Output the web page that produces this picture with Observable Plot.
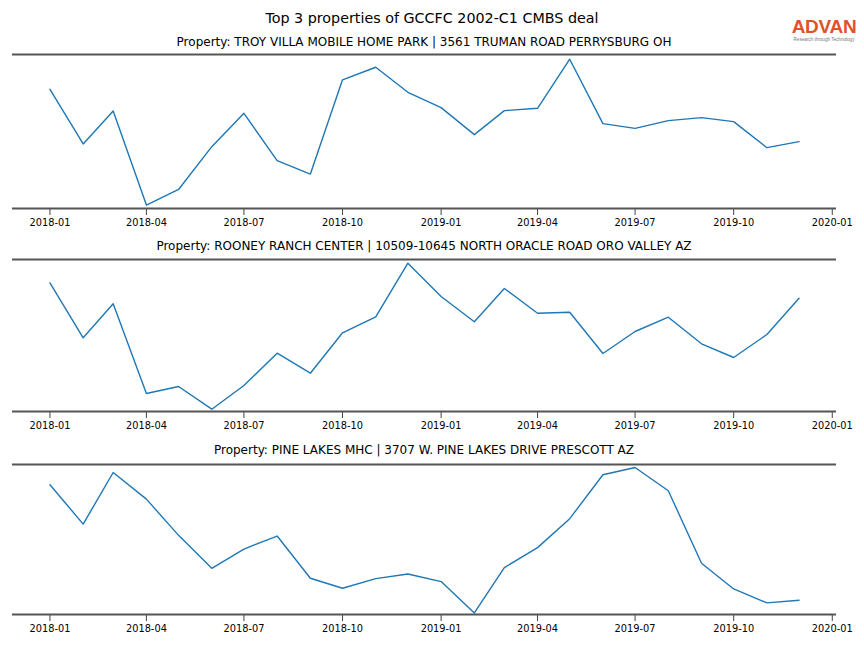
<!DOCTYPE html>
<html>
<head>
<meta charset="utf-8">
<script src="https://cdn.jsdelivr.net/npm/d3@7"></script>
<script src="https://cdn.jsdelivr.net/npm/@observablehq/plot@0.6"></script>
<style>
  html, body { margin: 0; padding: 0; background: #fff; }
  #wrap { position: relative; width: 864px; height: 648px; font-family: "DejaVu Sans", sans-serif; }
  .t { position: absolute; left: 0; width: 864px; text-align: center; color: #000; white-space: nowrap; }
  .pt { position: absolute; left: 12px; width: 824px; text-align: center; color: #000; white-space: nowrap; }
  .panel { position: absolute; left: 0; }
  #logo { position: absolute; left: 788px; top: 17px; width: 72px; text-align: center; }
</style>
</head>
<body>
<div id="wrap"></div>
<script>
// ---- data ----
const months = ["2018-01","2018-02","2018-03","2018-04","2018-05","2018-06","2018-07","2018-08","2018-09","2018-10","2018-11","2018-12",
                "2019-01","2019-02","2019-03","2019-04","2019-05","2019-06","2019-07","2019-08","2019-09","2019-10","2019-11","2019-12"];
const chartTitle = "Top 3 properties of GCCFC 2002-C1 CMBS deal";
const propertyNames = [
  "Property: TROY VILLA MOBILE HOME PARK | 3561 TRUMAN ROAD PERRYSBURG OH",
  "Property: ROONEY RANCH CENTER | 10509-10645 NORTH ORACLE ROAD ORO VALLEY AZ",
  "Property: PINE LAKES MHC | 3707 W. PINE LAKES DRIVE PRESCOTT AZ"
];
// relative foot-traffic index (no y axis in the original)
const troyVilla = [119, 64.4, 97.4, 3.4, 19, 61.7, 95, 47.7, 34.4, 128.4, 141, 116, 100.7, 73.7, 97.7, 100, 149, 84.7, 80, 87.7, 90.7, 86.7, 60.7, 66.7];
const rooneyRanch = [128.7, 73.7, 107.7, 18, 25, 2.3, 26, 58.3, 38.3, 78.7, 94.7, 148.3, 115, 89.7, 123, 98.3, 99.3, 58, 80, 94.3, 67.7, 54, 77, 113.3];
const pineLakes = [130, 90.6, 142.3, 115.6, 79.3, 46.3, 65.6, 78.6, 36.3, 26.3, 36, 40.6, 33, 1.6, 47, 67, 96, 140, 147.3, 124, 51.3, 25.6, 11.6, 14.3];
const seriesList = [troyVilla, rooneyRanch, pineLakes];
const yDomains = [[0, 153.7], [0, 152], [0, 150.3]];

// ---- layout ----
const wrap = document.getElementById("wrap");
const panelTops = [52, 257, 462];
const innerHeights = [154, 152, 150];
const titleTops = [34.5, 238.5, 442.5];

const main = document.createElement("div");
main.className = "t";
main.style.top = "10px";
main.style.fontSize = "14.3px";
main.textContent = chartTitle;
wrap.appendChild(main);

const logo = document.createElement("div");
logo.id = "logo";
logo.innerHTML = '<div style="font-family:\'Liberation Sans\',Arial,sans-serif;font-size:19px;font-weight:700;color:#e0522a;letter-spacing:-0.3px;line-height:19px;">ADVAN</div>' +
  '<div style="font-family:\'Liberation Sans\',Arial,sans-serif;font-size:4.6px;color:#777;line-height:6px;margin-top:1px;">Research through Technology</div>';
wrap.appendChild(logo);

const parseM = d3.utcParse("%Y-%m");
const dates = months.map(parseM);
const x0 = dates[0], x1 = dates[dates.length - 1];
const span = x1 - x0;
const xDomain = [new Date(+x0 - span * 0.05), new Date(+x1 + span * 0.05)];

seriesList.forEach((vals, i) => {
  const data = dates.map((d, j) => ({date: d, value: vals[j]}));
  const t = document.createElement("div");
  t.className = "pt";
  t.style.top = titleTops[i] + "px";
  t.style.fontSize = "12px";
  t.textContent = propertyNames[i];
  wrap.appendChild(t);

  const mt = 2, mb = 28;
  const plot = Plot.plot({
    width: 864,
    height: mt + innerHeights[i] + mb,
    marginLeft: 12,
    marginRight: 28,
    marginTop: mt,
    marginBottom: mb,
    style: {fontFamily: "DejaVu Sans, sans-serif", fontSize: "9.8px", color: "#000", background: "transparent"},
    x: {type: "utc", domain: xDomain},
    y: {domain: yDomains[i], axis: null},
    marks: [
      Plot.axisX({ticks: d3.utcMonth.every(3), tickFormat: d3.utcFormat("%Y-%m"), tickSize: 7, tickPadding: 4, label: null, stroke: "#444", fill: "#000"}),
      Plot.line(data, {x: "date", y: "value", stroke: "#1f77b4", strokeWidth: 1.4, curve: "linear"}),
      Plot.ruleY(yDomains[i], {stroke: "#555", strokeWidth: 2})
    ]
  });
  plot.classList.add("panel");
  plot.style.top = panelTops[i] + "px";
  wrap.appendChild(plot);
});
</script>
</body>
</html>
